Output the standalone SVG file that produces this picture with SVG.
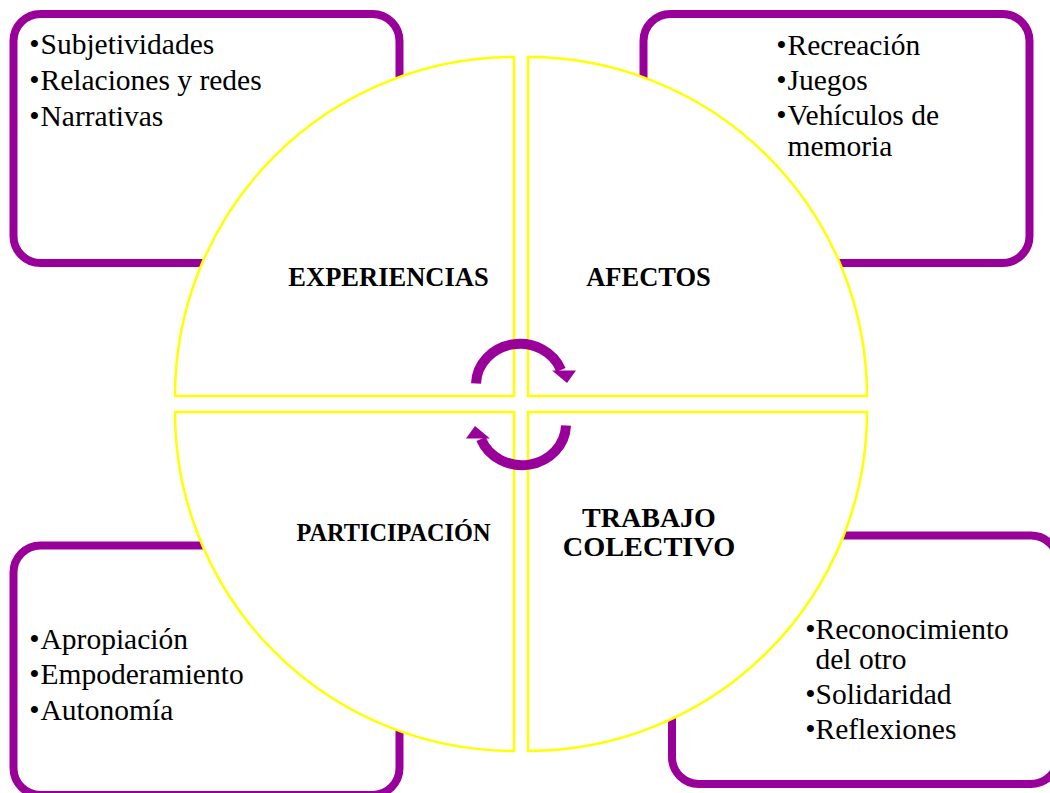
<svg xmlns="http://www.w3.org/2000/svg" width="1050" height="793" viewBox="0 0 1050 793">
<style>
.box{fill:#fff;stroke:#990099;stroke-width:8}
.q{fill:#fff;stroke:#ffff00;stroke-width:2.5;stroke-linejoin:miter}
.t{font-family:"Liberation Serif","Times New Roman",serif;font-size:29.5px;fill:#000}
.lbl{font-family:"Liberation Serif","Times New Roman",serif;font-weight:bold;fill:#000;text-anchor:middle}
.arc{fill:none;stroke:#990099;stroke-width:10}
.head{fill:#990099}
</style>
<rect width="1050" height="793" fill="#fff"/>
<g id="box-tl"><rect class="box" x="13.5" y="14" width="386" height="249" rx="27"/></g>
<g id="box-tr"><rect class="box" x="643.5" y="14" width="386" height="249" rx="27"/></g>
<g id="box-bl"><rect class="box" x="13.5" y="545.5" width="386" height="249.5" rx="27"/></g>
<g id="box-br"><rect class="box" x="672" y="535.5" width="386" height="248.5" rx="27"/></g>
<g id="quad-experiencias"><path class="q" d="M514,396 L175,396 A339,339 0 0 1 514,57 Z"/></g>
<g id="quad-afectos"><path class="q" d="M528,396 L528,57 A339,339 0 0 1 867,396 Z"/></g>
<g id="quad-participacion"><path class="q" d="M514,412 L514,751 A339,339 0 0 1 175,412 Z"/></g>
<g id="quad-trabajo"><path class="q" d="M528,412 L867,412 A339,339 0 0 1 528,751 Z"/></g>
<g id="connectors">
<g id="arrow-top"><path class="arc" d="M476,383.5 A44,41 0 0 1 561,370"/><polygon class="head" points="552,370.5 576,370.5 567,383"/></g>
<g id="arrow-bottom" transform="rotate(180 521 404.5)"><path class="arc" d="M476,383.5 A44,41 0 0 1 561,370"/><polygon class="head" points="552,370.5 576,370.5 567,383"/></g>
</g>
<g id="text-tl">
<text class="t" x="29.2" y="54">•</text><text class="t" x="40.5" y="54">Subjetividades</text>
<text class="t" x="29.2" y="90">•</text><text class="t" x="40.5" y="90">Relaciones y redes</text>
<text class="t" x="29.2" y="126">•</text><text class="t" x="40.5" y="126">Narrativas</text>
</g>
<g id="text-tr">
<text class="t" x="776.2" y="55">•</text><text class="t" x="787.5" y="55">Recreación</text>
<text class="t" x="776.2" y="90">•</text><text class="t" x="787.5" y="90">Juegos</text>
<text class="t" x="776.2" y="124.5">•</text><text class="t" x="787.5" y="124.5">Vehículos de</text>
<text class="t" x="787.5" y="156">memoria</text>
</g>
<g id="text-bl">
<text class="t" x="29.2" y="649">•</text><text class="t" x="40.5" y="649">Apropiación</text>
<text class="t" x="29.2" y="684">•</text><text class="t" x="40.5" y="684">Empoderamiento</text>
<text class="t" x="29.2" y="719.5">•</text><text class="t" x="40.5" y="719.5">Autonomía</text>
</g>
<g id="text-br">
<text class="t" x="805.2" y="638.5">•</text><text class="t" x="815.5" y="638.5">Reconocimiento</text>
<text class="t" x="815.5" y="668.5">del otro</text>
<text class="t" x="805.2" y="703.5">•</text><text class="t" x="815.5" y="703.5">Solidaridad</text>
<text class="t" x="805.2" y="739">•</text><text class="t" x="815.5" y="739">Reflexiones</text>
</g>
<g id="labels">
<text class="lbl" x="388.5" y="286" font-size="26.5">EXPERIENCIAS</text>
<text class="lbl" x="648.5" y="286" font-size="26.5">AFECTOS</text>
<text class="lbl" x="393.5" y="541" font-size="24.3">PARTICIPACIÓN</text>
<text class="lbl" x="649" y="527" font-size="28">TRABAJO</text>
<text class="lbl" x="649" y="556" font-size="28.3">COLECTIVO</text>
</g>
</svg>
